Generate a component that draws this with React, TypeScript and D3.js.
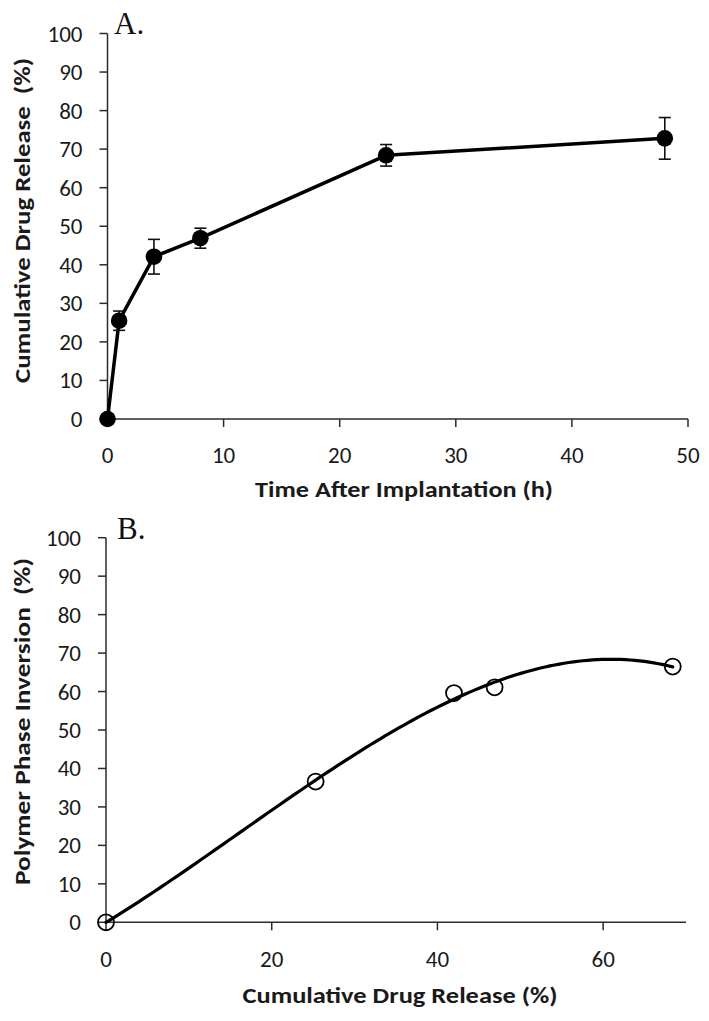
import React from "react";
import * as d3 from "d3";

// Panel A data: cumulative drug release vs time
const timeH = [0, 1, 4, 8, 24, 48];
const releasePct = [0, 25.5, 42.1, 46.9, 68.4, 72.8];
const releaseErr = [0, 2.5, 4.5, 2.6, 2.8, 5.4];

// Panel B data: polymer phase inversion vs cumulative drug release
const releaseB = [0, 25.3, 42.0, 46.9, 68.4];
const inversionB = [0, 36.6, 59.6, 61.1, 66.5];

const yTicks = [0, 10, 20, 30, 40, 50, 60, 70, 80, 90, 100];
const xTicksA = [0, 10, 20, 30, 40, 50];
const xTicksB = [0, 20, 40, 60];

const FONT = "Carlito, Calibri, Lato, 'Open Sans', sans-serif";

// least squares polynomial fit (Excel-style trendline)
function polyFit(xs: number[], ys: number[], order: number): number[] {
  const n = order + 1;
  const A: number[][] = [];
  for (let i = 0; i < n; i++) {
    const row: number[] = [];
    for (let j = 0; j < n; j++) row.push(d3.sum(xs, (x) => Math.pow(x, i + j)));
    row.push(d3.sum(xs, (x, k) => Math.pow(x, i) * ys[k]));
    A.push(row);
  }
  for (let c = 0; c < n; c++) {
    let p = c;
    for (let r = c + 1; r < n; r++) if (Math.abs(A[r][c]) > Math.abs(A[p][c])) p = r;
    [A[c], A[p]] = [A[p], A[c]];
    for (let r = 0; r < n; r++) {
      if (r === c) continue;
      const f = A[r][c] / A[c][c];
      for (let k = c; k <= n; k++) A[r][k] -= f * A[c][k];
    }
  }
  return A.map((row, i) => row[n] / row[i]);
}

export default function App() {
  const xA = d3.scaleLinear().domain([0, 50]).range([107.5, 688]);
  const yA = d3.scaleLinear().domain([0, 100]).range([419, 33.5]);
  const xB = d3.scaleLinear().domain([0, 70]).range([106, 686]);
  const yB = d3.scaleLinear().domain([0, 100]).range([922.3, 537.7]);

  const lineA = d3
    .line<number>()
    .x((_, i) => xA(timeH[i]))
    .y((d) => yA(d))(releasePct) as string;

  const coef = polyFit(releaseB, inversionB, 3);
  const evalP = (x: number) => coef.reduce((s, c, i) => s + c * Math.pow(x, i), 0);
  const xMax = d3.max(releaseB) as number;
  const samples = d3.range(0, xMax + 0.001, xMax / 120);
  const lineB = d3
    .line<number>()
    .x((x) => xB(x))
    .y((x) => yB(evalP(x)))
    .curve(d3.curveLinear)(samples) as string;

  const axisColor = "#2b2b2b";
  const tickFill = "#1a1a1a";

  const renderYAxis = (y: d3.ScaleLinear<number, number>, x0: number) => (
    <g>
      <line x1={x0} x2={x0} y1={y(0)} y2={y(100)} stroke={axisColor} strokeWidth={1.5} />
      {yTicks.map((t) => (
        <g key={t}>
          <line x1={x0 - 8} x2={x0} y1={y(t)} y2={y(t)} stroke={axisColor} strokeWidth={1.5} />
          <text
            x={x0 - 25}
            y={y(t)}
            textAnchor="end"
            dominantBaseline="central"
            fontFamily={FONT}
            fontSize={23}
            fill={tickFill}
          >
            {t}
          </text>
        </g>
      ))}
    </g>
  );

  const renderXAxis = (
    x: d3.ScaleLinear<number, number>,
    y0: number,
    ticks: number[],
    labelY: number
  ) => (
    <g>
      <line x1={x.range()[0]} x2={x.range()[1]} y1={y0} y2={y0} stroke={axisColor} strokeWidth={1.5} />
      {ticks.map((t) => (
        <g key={t}>
          <line x1={x(t)} x2={x(t)} y1={y0} y2={y0 + 8} stroke={axisColor} strokeWidth={1.5} />
          <text x={x(t)} y={labelY} textAnchor="middle" fontFamily={FONT} fontSize={23} fill={tickFill}>
            {t}
          </text>
        </g>
      ))}
    </g>
  );

  return (
    <svg
      width={709}
      height={1021}
      style={{ position: "absolute", left: 0, top: 0, background: "#fff" }}
    >
      <rect width={709} height={1021} fill="#fff" />

      {/* Panel A */}
      {renderYAxis(yA, 107.5)}
      {renderXAxis(xA, yA(0), xTicksA, 463)}
      <path d={lineA} fill="none" stroke="#000" strokeWidth={3.5} strokeLinejoin="round" />
      {timeH.map((t, i) =>
        releaseErr[i] > 0 ? (
          <g key={"e" + i} stroke="#111" strokeWidth={1.6}>
            <line x1={xA(t)} x2={xA(t)} y1={yA(releasePct[i] - releaseErr[i])} y2={yA(releasePct[i] + releaseErr[i])} />
            <line x1={xA(t) - 6} x2={xA(t) + 6} y1={yA(releasePct[i] + releaseErr[i])} y2={yA(releasePct[i] + releaseErr[i])} />
            <line x1={xA(t) - 6} x2={xA(t) + 6} y1={yA(releasePct[i] - releaseErr[i])} y2={yA(releasePct[i] - releaseErr[i])} />
          </g>
        ) : null
      )}
      {timeH.map((t, i) => (
        <circle key={"m" + i} cx={xA(t)} cy={yA(releasePct[i])} r={8.3} fill="#000" />
      ))}
      <text x={114} y={34} fontFamily="'Liberation Serif', 'Times New Roman', serif" fontSize={31} fill="#111">
        A.
      </text>
      <text
        transform="translate(30,220.5) rotate(-90)"
        textAnchor="middle"
        fontFamily={FONT}
        fontSize={22}
        fontWeight="bold"
        fill={tickFill}
        textLength={325}
        lengthAdjust="spacingAndGlyphs"
      >
        {"Cumulative Drug Release\u00a0\u00a0(%)"}
      </text>
      <text
        x={404}
        y={497}
        textAnchor="middle"
        fontFamily={FONT}
        fontSize={22}
        fontWeight="bold"
        fill={tickFill}
        textLength={298}
        lengthAdjust="spacingAndGlyphs"
      >
        Time After Implantation (h)
      </text>

      {/* Panel B */}
      {renderYAxis(yB, 106)}
      {renderXAxis(xB, yB(0), xTicksB, 967)}
      <path d={lineB} fill="none" stroke="#000" strokeWidth={3.2} strokeLinecap="round" />
      {releaseB.map((x, i) => (
        <circle key={"b" + i} cx={xB(x)} cy={yB(inversionB[i])} r={8} fill="none" stroke="#000" strokeWidth={1.8} />
      ))}
      <text x={117} y={539} fontFamily="'Liberation Serif', 'Times New Roman', serif" fontSize={31} fill="#111">
        B.
      </text>
      <text
        transform="translate(30,721.5) rotate(-90)"
        textAnchor="middle"
        fontFamily={FONT}
        fontSize={22}
        fontWeight="bold"
        fill={tickFill}
        textLength={327}
        lengthAdjust="spacingAndGlyphs"
      >
        {"Polymer Phase Inversion\u00a0\u00a0(%)"}
      </text>
      <text
        x={400}
        y={1003}
        textAnchor="middle"
        fontFamily={FONT}
        fontSize={22}
        fontWeight="bold"
        fill={tickFill}
        textLength={315}
        lengthAdjust="spacingAndGlyphs"
      >
        Cumulative Drug Release (%)
      </text>
    </svg>
  );
}
